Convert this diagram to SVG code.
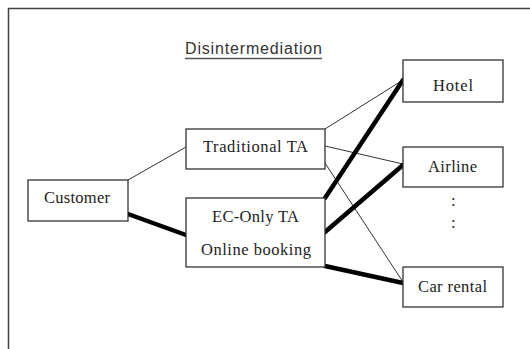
<svg xmlns="http://www.w3.org/2000/svg" width="530" height="349" viewBox="0 0 530 349">
<style>
.box{fill:#fff;stroke:#333;stroke-width:1.3}
.lbl{font-family:"Liberation Serif","Times New Roman",serif;font-size:16.5px;fill:#222}
.thin{stroke:#333;stroke-width:1;fill:none}
.thick{stroke:#000;stroke-width:4.5;fill:none;stroke-linecap:round}
</style>
<rect width="530" height="349" fill="#fff"/>
<path d="M8.5 349 V8.5 H530" fill="none" stroke="#444" stroke-width="1.5"/>
<g id="title">
<text x="185" y="54" font-family="'Liberation Sans',Arial,sans-serif" font-size="16" fill="#333" textLength="137" lengthAdjust="spacing">Disintermediation</text>
<line x1="185" y1="58.5" x2="322" y2="58.5" stroke="#555" stroke-width="1.3"/>
</g>
<g id="connectors">
<line class="thin" x1="128" y1="180" x2="186" y2="147"/>
<line class="thin" x1="325" y1="129" x2="403" y2="80"/>
<line class="thin" x1="325" y1="146" x2="403" y2="164"/>
<line class="thin" x1="325" y1="163" x2="403" y2="282"/>
<line class="thick" x1="128" y1="214" x2="186" y2="235"/>
<line class="thick" x1="325" y1="198" x2="403" y2="80"/>
<line class="thick" x1="325" y1="232" x2="403" y2="165"/>
<line class="thick" x1="325" y1="266" x2="403" y2="283"/>
</g>
<g id="customer">
<rect class="box" x="28" y="180" width="100" height="41"/>
<text class="lbl" x="44" y="203" textLength="66" lengthAdjust="spacing">Customer</text>
</g>
<g id="traditional-ta">
<rect class="box" x="186" y="129" width="139" height="40"/>
<text class="lbl" x="203" y="152" textLength="105" lengthAdjust="spacing">Traditional TA</text>
</g>
<g id="ec-only-ta">
<rect class="box" x="186" y="198" width="139" height="69"/>
<text class="lbl" x="212" y="222" textLength="87" lengthAdjust="spacing">EC-Only TA</text>
<text class="lbl" x="201" y="255" textLength="110" lengthAdjust="spacing">Online booking</text>
</g>
<g id="hotel">
<rect class="box" x="403" y="60" width="100" height="42"/>
<text class="lbl" x="433" y="91" textLength="40" lengthAdjust="spacing">Hotel</text>
</g>
<g id="airline">
<rect class="box" x="403" y="147" width="100" height="40"/>
<text class="lbl" x="428" y="172" textLength="49" lengthAdjust="spacing">Airline</text>
<text class="lbl" x="451" y="206">:</text>
<text class="lbl" x="451" y="228">:</text>
</g>
<g id="car-rental">
<rect class="box" x="403" y="267" width="100" height="40"/>
<text class="lbl" x="418" y="292" textLength="69" lengthAdjust="spacing">Car rental</text>
</g>
</svg>
